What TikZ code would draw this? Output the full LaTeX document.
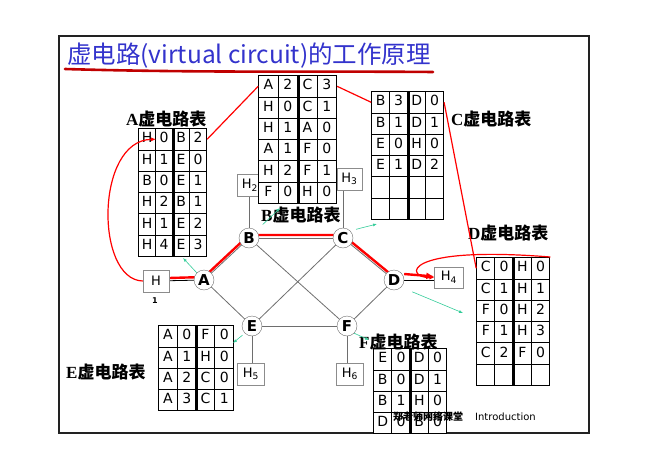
\documentclass[tikz,border=0pt]{standalone}
\usepackage{fontspec}
\setmainfont{DejaVu Sans}
\newfontfamily\cjkfont{Noto Sans CJK SC}
\newfontfamily\serifletter{Liberation Serif}
\usetikzlibrary{arrows.meta,matrix,backgrounds,calc}
\definecolor{TitleBlue}{HTML}{3333CC}
\definecolor{InkRed}{HTML}{C00000}
\definecolor{PathRed}{HTML}{FF0000}
\definecolor{LinkGray}{HTML}{6E6E6E}
\definecolor{BoxGray}{HTML}{8C8C8C}
\definecolor{PointerTeal}{HTML}{33CC99}
\definecolor{FrameDark}{HTML}{222222}
\tikzset{
  titletext/.style={text=TitleBlue,inner sep=0pt,font=\cjkfont\fontsize{24.5}{24.5}\selectfont},
  router/.style={circle,draw=LinkGray,fill=white,minimum size=20pt,inner sep=0pt,font=\bfseries\fontsize{15}{15}\selectfont},
  hostbox/.style={draw=BoxGray,fill=white,minimum width=26pt,minimum height=22pt,inner sep=0pt,font=\fontsize{13}{13}\selectfont},
  vctab/.style={matrix of nodes,nodes in empty cells,inner sep=0pt,column sep=-0.9pt,row sep=-0.9pt,anchor=north west,
    nodes={draw,fill=white,line width=0.9pt,inner sep=0pt,anchor=center,minimum width=#1,minimum height=21.3pt,
      text height=0.73em,text depth=0pt,font=\fontsize{14}{14}\selectfont}},
  vctab/.default=18pt,
  divider/.style={line width=3pt},
  tablabel/.style={anchor=west,inner sep=0pt,font=\bfseries\fontsize{17}{17}\selectfont},
  link/.style={draw=LinkGray,line width=0.8pt},
  hostlink/.style={draw=black,line width=0.8pt},
  vcpath/.style={draw=PathRed,line width=2.4pt},
  redline/.style={draw=PathRed,line width=1.2pt},
  pointer/.style={-{Latex[length=4pt,width=3pt]},draw=PointerTeal,line width=0.6pt}
}
\newcommand{\vclabel}[1]{{\serifletter\bfseries #1}{\cjkfont\bfseries 虚电路表}}

\begin{document}
\begin{tikzpicture}[x=1pt,y=-1pt]
\useasboundingbox (0,0) rectangle (670,466);

% frame and title
\draw[FrameDark,line width=1.8pt] (59,36) rectangle (589,433);
\node[titletext,anchor=west] (title) at (67,56) {虚电路(virtual circuit)的工作原理};
\draw[InkRed,line width=2.6pt,line cap=round] (65,69) .. controls (200,73) and (330,71) .. (433,72);

% routers
\node[router] (A) at (204,280) {A};
\node[router] (B) at (249,238) {B};
\node[router] (C) at (343,238) {C};
\node[router] (D) at (394,280) {D};
\node[router] (E) at (252,326) {E};
\node[router] (F) at (347,326) {F};

% hosts
\node[hostbox] (h1) at (156,281) {H};
\node[inner sep=0pt,font=\bfseries\fontsize{8}{8}\selectfont] (h1n) at (155,301) {1};
\node[hostbox] (h2) at (250,185) {H\textsubscript{2}};
\node[hostbox,minimum width=25pt] (h3) at (349.5,179) {H\textsubscript{3}};
\node[hostbox,minimum width=29pt,minimum height=21pt] (h4) at (449,277.5) {H\textsubscript{4}};
\node[hostbox,minimum width=27pt] (h5) at (251,374) {H\textsubscript{5}};
\node[hostbox,minimum width=27pt] (h6) at (350,374) {H\textsubscript{6}};

% links
\begin{scope}[on background layer]
\draw[link] (A) -- (B);
\draw[link] (A) -- (E);
\draw[link] (B) -- (C);
\draw[link] (B) -- (F);
\draw[link] (C) -- (E);
\draw[link] (C) -- (D);
\draw[link] (D) -- (F);
\draw[link] (E) -- (F);
\draw[link] (B) -- (B |- h2.south);
\draw[link] (C) -- (C |- h3.south);
\draw[link] (E) -- (E |- h5.north);
\draw[link] (F) -- (F |- h6.north);
\draw[hostlink] (h1) -- (A);
\draw[hostlink] (D) -- (D -| h4.west);
\draw[vcpath,transform canvas={yshift=3pt}] (h1.east) -- (A.center) -- (B.center) -- (C.center) -- (D.center);
\end{scope}
\draw[vcpath,-{Latex[length=8pt,width=7pt]}] ([yshift=6pt]D.east) -- ([yshift=1pt]h4.west);

% virtual circuit tables
\matrix[vctab=17pt] (tA) at (138,128) {
H & 0 & B & 2 \\
H & 1 & E & 0 \\
B & 0 & E & 1 \\
H & 2 & B & 1 \\
H & 1 & E & 2 \\
H & 4 & E & 3 \\
};
\draw[divider] (tA-1-2.north east) -- (tA-6-2.south east);
\node[tablabel] (lA) at (126,119) {\vclabel{A}};

\matrix[vctab=19.5pt] (tB) at (258,75) {
A & 2 & C & 3 \\
H & 0 & C & 1 \\
H & 1 & A & 0 \\
A & 1 & F & 0 \\
H & 2 & F & 1 \\
F & 0 & H & 0 \\
};
\draw[divider] (tB-1-2.north east) -- (tB-6-2.south east);
\node[tablabel] (lB) at (261,215) {\vclabel{B}};

\matrix[vctab=18pt] (tC) at (371,91) {
B & 3 & D & 0 \\
B & 1 & D & 1 \\
E & 0 & H & 0 \\
E & 1 & D & 2 \\
  &   &   &   \\
  &   &   &   \\
};
\draw[divider] (tC-1-2.north east) -- (tC-6-2.south east);
\node[tablabel] (lC) at (451,119) {\vclabel{C}};

\matrix[vctab=18.25pt] (tD) at (476,257) {
C & 0 & H & 0 \\
C & 1 & H & 1 \\
F & 0 & H & 2 \\
F & 1 & H & 3 \\
C & 2 & F & 0 \\
  &   &   &   \\
};
\draw[divider] (tD-1-2.north east) -- (tD-6-2.south east);
\node[tablabel] (lD) at (468,233) {\vclabel{D}};

\matrix[vctab=18.75pt] (tE) at (158,325) {
A & 0 & F & 0 \\
A & 1 & H & 0 \\
A & 2 & C & 0 \\
A & 3 & C & 1 \\
};
\draw[divider] (tE-1-2.north east) -- (tE-4-2.south east);
\node[tablabel] (lE) at (66,372) {\vclabel{E}};

\matrix[vctab=18.25pt] (tF) at (373,348) {
E & 0 & D & 0 \\
B & 0 & D & 1 \\
B & 1 & H & 0 \\
D & 0 & B & 0 \\
};
\draw[divider] (tF-1-2.north east) -- (tF-4-2.south east);
\node[tablabel] (lF) at (359,342) {\vclabel{F}};

% red links between table entries
\draw[redline] (tA-1-4.east) -- (tB-1-1.west);
\draw[redline] (tB-1-4.east) -- (tC-1-1.west);
\draw[redline] (tC-1-4.east) -- (tD-1-1.west);
\draw[redline,-{Latex[length=5pt,width=4pt]}] (h1.west) .. controls (95,280) and (95,140) .. (tA-1-1.east);
\draw[redline,-{Latex[length=5pt,width=4pt]}] (tD.north east) .. controls (400,245) and (405,278) .. (h4.west);

% each router points at its table
\coordinate (pA) at (183,258);
\coordinate (pB) at (280,208);
\coordinate (pC) at (377,224);
\coordinate (pD) at (463,313);
\coordinate (pE) at (233,343);
\coordinate (pF) at (369,340);
\draw[pointer] (A.north west) -- (pA);
\draw[pointer,shorten <=9pt] (B.north east) -- (pB);
\draw[pointer,shorten <=6pt] (C.north east) -- (pC);
\draw[pointer,shorten <=12pt] (D.south east) -- (pD);
\draw[pointer,shorten <=3pt] (E.south west) -- (pE);
\draw[pointer] (F.south east) -- (pF);

% footer
\node[anchor=west,inner sep=0pt,font=\cjkfont\bfseries\fontsize{10}{10}\selectfont] (foot) at (393,417) {郑老师网络课堂};
\node[anchor=west,inner sep=0pt,font=\fontsize{10}{10}\selectfont] (intro) at (475,417) {Introduction};
\end{tikzpicture}
\end{document}
